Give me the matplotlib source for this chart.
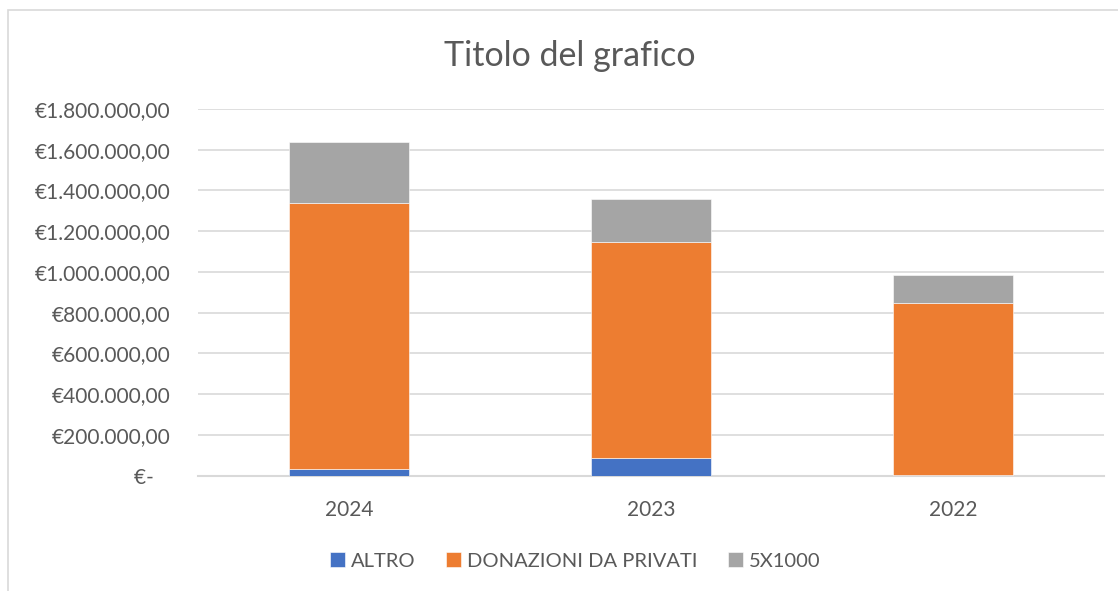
import matplotlib
matplotlib.use("Agg")
import matplotlib.pyplot as plt
from matplotlib.ticker import FuncFormatter, MultipleLocator
from matplotlib.patches import Rectangle

years = ["2024", "2023", "2022"]
altro = [34000, 87000, 3000]
donazioni = [1304000, 1058000, 844000]
cinque_x_mille = [299000, 214000, 139000]
series_names = ["ALTRO", "DONAZIONI DA PRIVATI", "5X1000"]
colors = ["#4472C4", "#ED7D31", "#A5A5A5"]

plt.rcParams['font.family'] = ['Lato', 'DejaVu Sans']
text_color = "#595959"

fig = plt.figure(figsize=(11.18, 5.91), dpi=100)
ax = fig.add_axes([198/1118, 1-475.5/591, (1104-198)/1118, (475.5-109)/591])

x = list(range(len(years)))
bottom = [0]*len(years)
for vals, name, c in zip([altro, donazioni, cinque_x_mille], series_names, colors):
    ax.bar(x, vals, width=0.4, bottom=bottom, color=c, label=name,
           edgecolor="white", linewidth=0.4, zorder=3)
    bottom = [b + v for b, v in zip(bottom, vals)]

ax.set_xlim(-0.5, 2.5)
ax.set_ylim(0, 1800000)
ax.yaxis.set_major_locator(MultipleLocator(200000))

def fmt(v, pos):
    if abs(v) < 1:
        return "€-   "
    s = f"{int(round(v)):,}".replace(",", ".")
    return f"€{s},00"

ax.yaxis.set_major_formatter(FuncFormatter(fmt))
ax.set_xticks(x)
ax.set_xticklabels(years)
ax.tick_params(axis='both', length=0, labelsize=15, colors=text_color)
ax.tick_params(axis='y', pad=20)
ax.tick_params(axis='x', pad=18)
ax.grid(axis='y', color="#D9D9D9", linewidth=1.2, zorder=0)
for s in ["top", "right", "left"]:
    ax.spines[s].set_visible(False)
ax.spines["bottom"].set_color("#D9D9D9")
ax.spines["bottom"].set_linewidth(1.5)

fig.text(570/1118, 1-56/591, "Titolo del grafico", ha="center", va="center",
         fontsize=24.5, color=text_color)

handles, labels = ax.get_legend_handles_labels()
leg = fig.legend(handles, labels, loc="center", bbox_to_anchor=(575/1118, 1-561/591),
                 ncol=3, frameon=False, fontsize=14.5, handlelength=0.75, handleheight=0.75,
                 handletextpad=0.3, columnspacing=1.5)
for t in leg.get_texts():
    t.set_color(text_color)

fig.patches.append(Rectangle((8/1118, -0.01), 1.1, 1-10/591 + 0.01, transform=fig.transFigure,
                             fill=False, edgecolor="#D9D9D9", linewidth=1.2))

fig.savefig("out.png", dpi=100, facecolor="white")
